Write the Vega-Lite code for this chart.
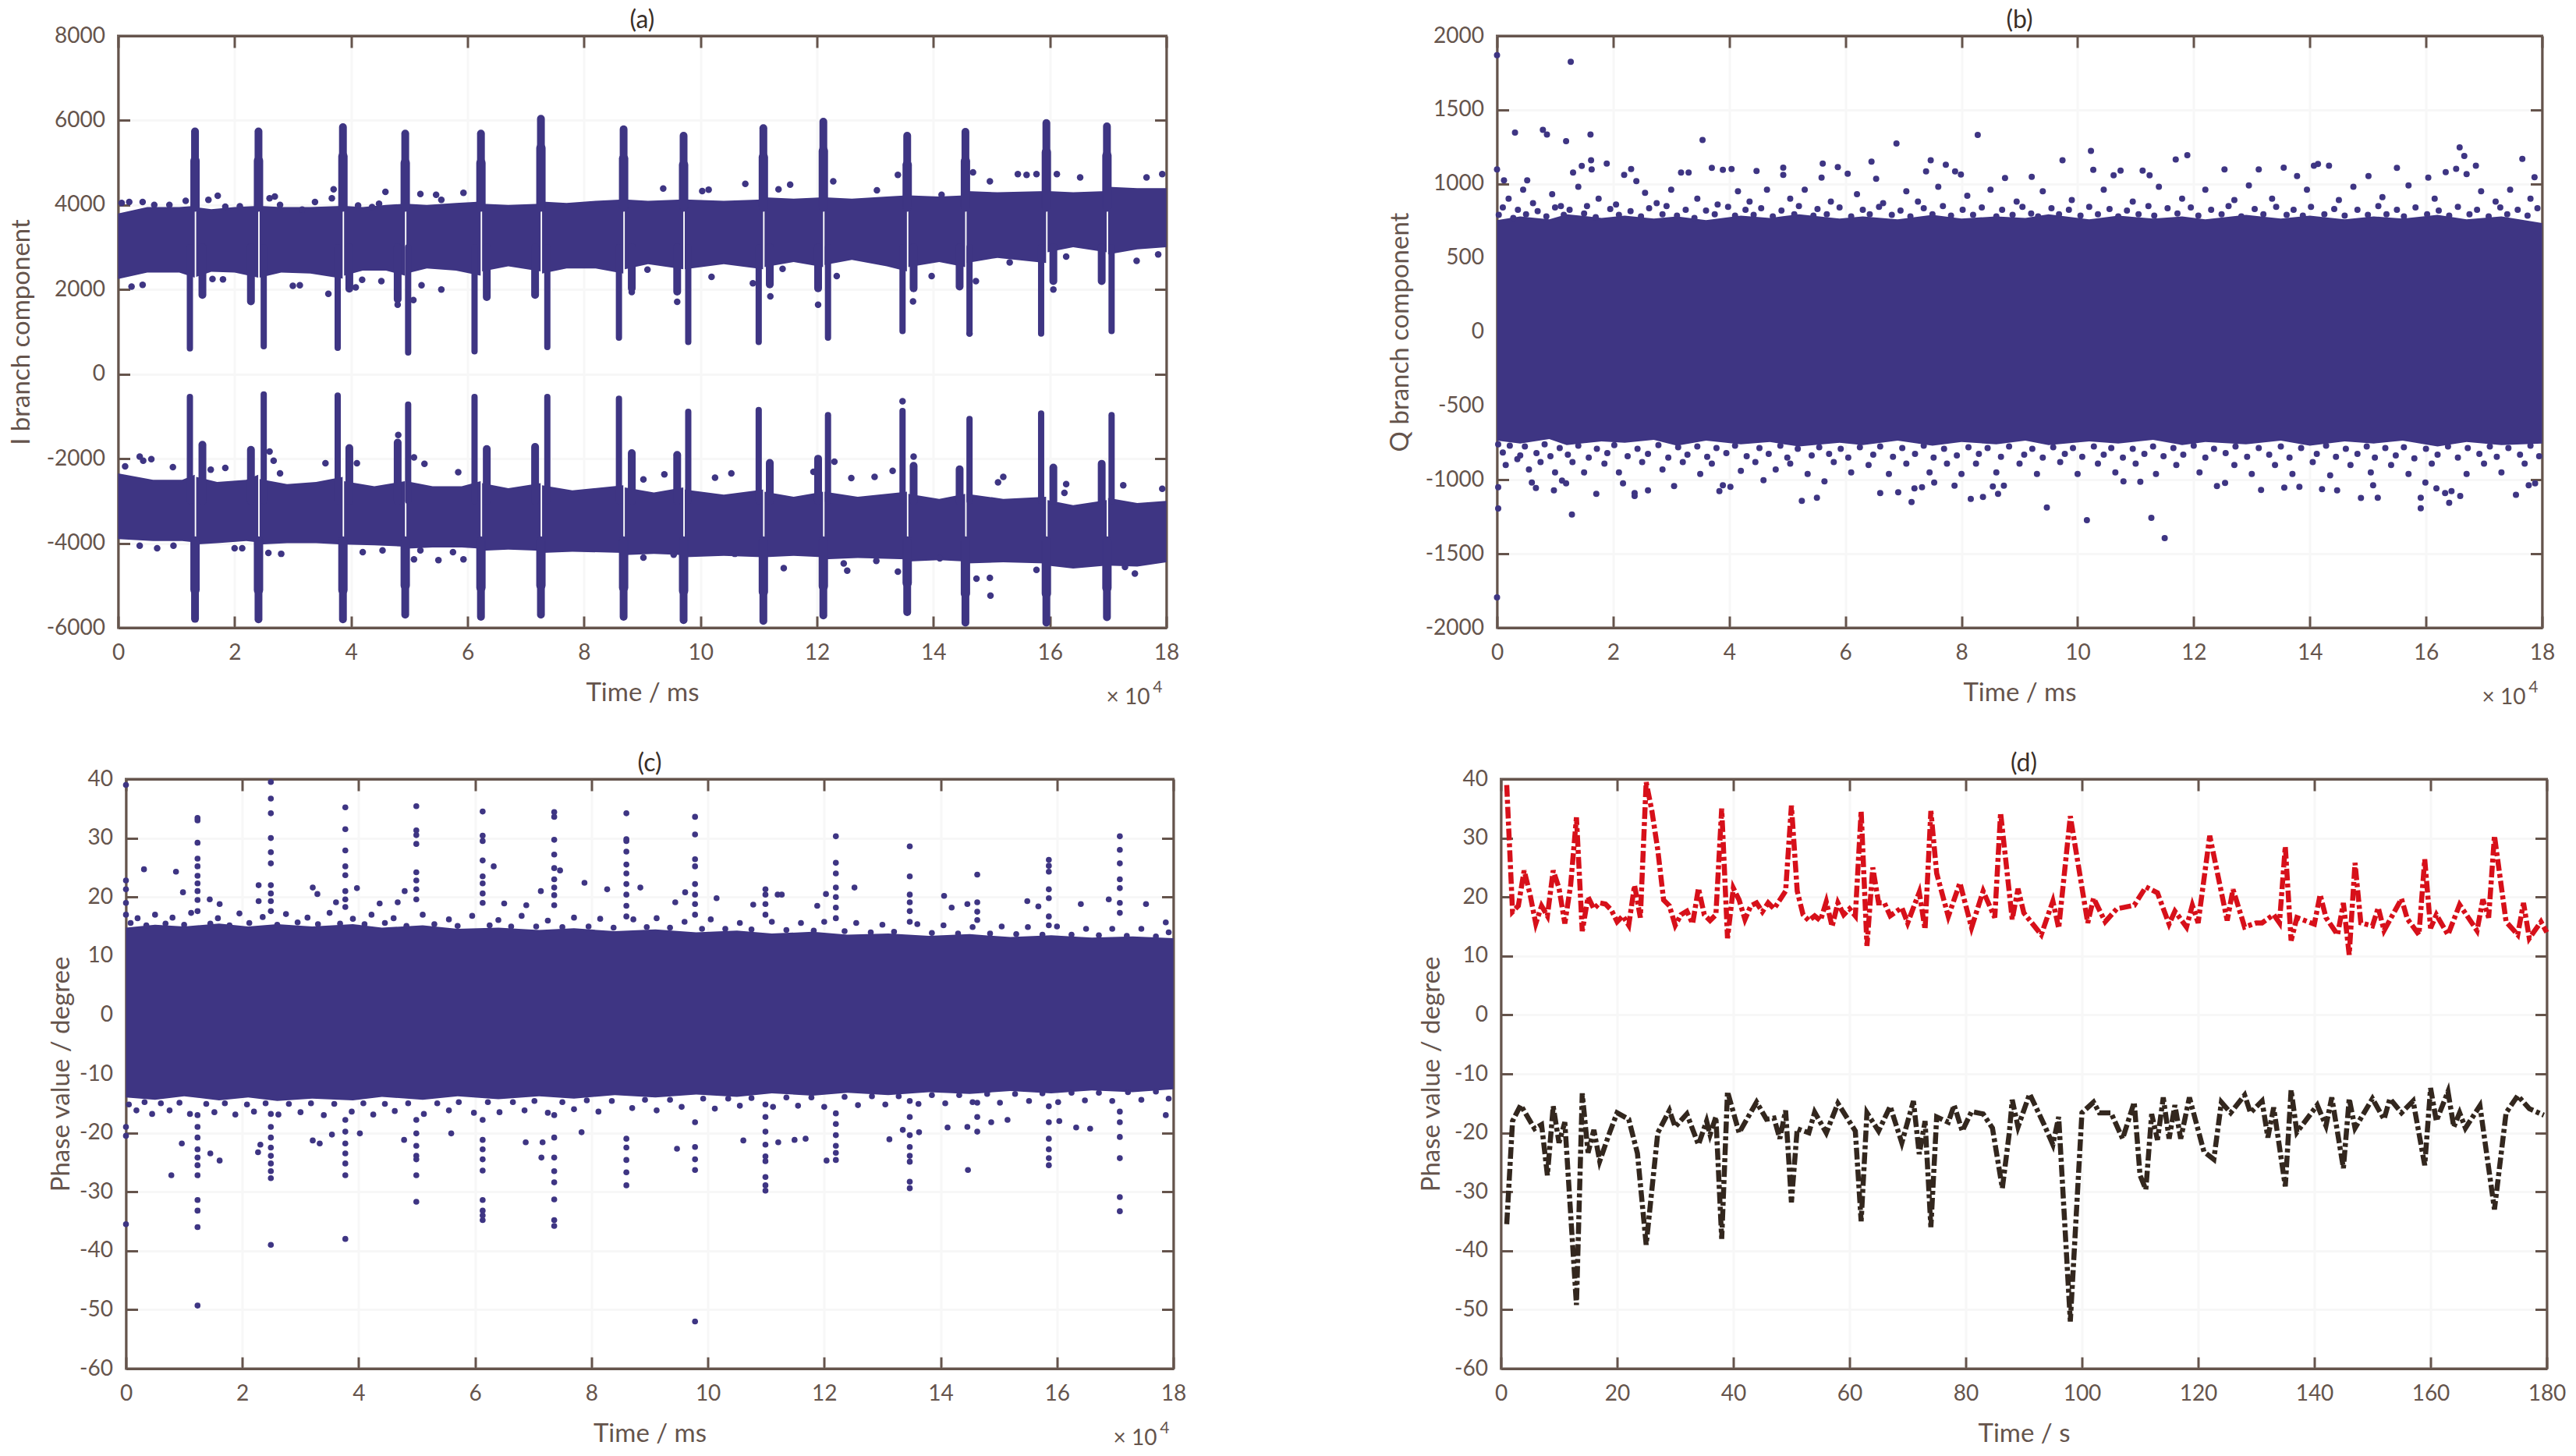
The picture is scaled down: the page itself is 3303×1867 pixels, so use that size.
{"$schema":"https://vega.github.io/schema/vega-lite/v6.json","padding":{"left":9.5,"top":8,"right":0,"bottom":0},"background":"white","config":{"view":{"stroke":"#65544c","strokeWidth":3},"style":{"cell":{"stroke":"#65544c","strokeWidth":3}},"axis":{"domain":true,"domainColor":"#65544c","domainWidth":3,"grid":false,"gridColor":"#f7f7f7","gridWidth":3,"tickColor":"#65544c","tickWidth":3,"tickSize":-15,"labelColor":"#65544c","labelFont":"Lato","labelFontSize":28,"labelOverlap":false,"labelBound":false,"labelFlush":false,"titleFont":"Lato","titleFontSize":33,"titleFontWeight":"normal","titleColor":"#65544c","labelExpr":"''+datum.value"},"title":{"font":"Lato","fontSize":32,"fontWeight":"normal","color":"#3a2f28","offset":-11}},
"datasets":{
"aBand":[{"s":"t0","x":0,"lo":2250,"hi":3800},{"s":"t0","x":0.5,"lo":2400,"hi":3950},{"s":"t0","x":1.05,"lo":2400,"hi":3950},{"s":"t0","x":1.315,"lo":2280,"hi":3980},{"s":"t1","x":1.34,"lo":2300,"hi":3950},{"s":"t1","x":1.6,"lo":2420,"hi":3900},{"s":"t1","x":2,"lo":2400,"hi":3950},{"s":"t1","x":2.405,"lo":2280,"hi":3980},{"s":"t2","x":2.43,"lo":2280,"hi":3980},{"s":"t2","x":2.8,"lo":2400,"hi":3950},{"s":"t2","x":3.3,"lo":2380,"hi":3950},{"s":"t2","x":3.855,"lo":2260,"hi":3980},{"s":"t3","x":3.88,"lo":2330,"hi":3980},{"s":"t3","x":4.2,"lo":2450,"hi":3950},{"s":"t3","x":4.6,"lo":2450,"hi":4000},{"s":"t3","x":4.925,"lo":2330,"hi":4030},{"s":"t4","x":4.95,"lo":2380,"hi":4030},{"s":"t4","x":5.3,"lo":2500,"hi":4000},{"s":"t4","x":5.8,"lo":2450,"hi":4050},{"s":"t4","x":6.225,"lo":2330,"hi":4080},{"s":"t5","x":6.25,"lo":2430,"hi":4030},{"s":"t5","x":6.7,"lo":2550,"hi":4000},{"s":"t5","x":7.255,"lo":2430,"hi":4030},{"s":"t6","x":7.28,"lo":2380,"hi":4080},{"s":"t6","x":7.7,"lo":2500,"hi":4050},{"s":"t6","x":8.2,"lo":2500,"hi":4100},{"s":"t6","x":8.675,"lo":2380,"hi":4130},{"s":"t7","x":8.7,"lo":2480,"hi":4130},{"s":"t7","x":9.1,"lo":2600,"hi":4100},{"s":"t7","x":9.705,"lo":2480,"hi":4130},{"s":"t8","x":9.73,"lo":2480,"hi":4130},{"s":"t8","x":10.4,"lo":2600,"hi":4100},{"s":"t8","x":11.075,"lo":2480,"hi":4130},{"s":"t9","x":11.1,"lo":2530,"hi":4180},{"s":"t9","x":11.6,"lo":2650,"hi":4150},{"s":"t9","x":12.105,"lo":2530,"hi":4180},{"s":"t10","x":12.13,"lo":2580,"hi":4180},{"s":"t10","x":12.6,"lo":2700,"hi":4150},{"s":"t10","x":13.2,"lo":2550,"hi":4200},{"s":"t10","x":13.545,"lo":2430,"hi":4230},{"s":"t11","x":13.57,"lo":2530,"hi":4230},{"s":"t11","x":14.1,"lo":2650,"hi":4200},{"s":"t11","x":14.545,"lo":2530,"hi":4230},{"s":"t12","x":14.57,"lo":2630,"hi":4330},{"s":"t12","x":15.1,"lo":2750,"hi":4300},{"s":"t12","x":15.935,"lo":2630,"hi":4330},{"s":"t13","x":15.96,"lo":2880,"hi":4330},{"s":"t13","x":16.4,"lo":3000,"hi":4300},{"s":"t13","x":16.975,"lo":2880,"hi":4330},{"s":"t14","x":17,"lo":2830,"hi":4430},{"s":"t14","x":17.5,"lo":2950,"hi":4400},{"s":"t14","x":18,"lo":3000,"hi":4400},
{"s":"b0","x":0,"lo":-3900,"hi":-2350},{"s":"b0","x":0.6,"lo":-3950,"hi":-2500},{"s":"b0","x":1.1,"lo":-3950,"hi":-2500},{"s":"b0","x":1.315,"lo":-3980,"hi":-2380},{"s":"b1","x":1.34,"lo":-4030,"hi":-2430},{"s":"b1","x":1.7,"lo":-4000,"hi":-2550},{"s":"b1","x":2.2,"lo":-3950,"hi":-2500},{"s":"b1","x":2.405,"lo":-3980,"hi":-2380},{"s":"b2","x":2.43,"lo":-4030,"hi":-2480},{"s":"b2","x":2.9,"lo":-4000,"hi":-2600},{"s":"b2","x":3.4,"lo":-4000,"hi":-2550},{"s":"b2","x":3.855,"lo":-4030,"hi":-2430},{"s":"b3","x":3.88,"lo":-4030,"hi":-2530},{"s":"b3","x":4.4,"lo":-4050,"hi":-2650},{"s":"b3","x":4.925,"lo":-4080,"hi":-2530},{"s":"b4","x":4.95,"lo":-4130,"hi":-2530},{"s":"b4","x":5.4,"lo":-4100,"hi":-2650},{"s":"b4","x":5.9,"lo":-4100,"hi":-2650},{"s":"b4","x":6.225,"lo":-4130,"hi":-2530},{"s":"b5","x":6.25,"lo":-4180,"hi":-2580},{"s":"b5","x":6.7,"lo":-4150,"hi":-2700},{"s":"b5","x":7.255,"lo":-4180,"hi":-2580},{"s":"b6","x":7.28,"lo":-4230,"hi":-2630},{"s":"b6","x":7.8,"lo":-4200,"hi":-2750},{"s":"b6","x":8.675,"lo":-4230,"hi":-2630},{"s":"b7","x":8.7,"lo":-4280,"hi":-2680},{"s":"b7","x":9.2,"lo":-4250,"hi":-2800},{"s":"b7","x":9.705,"lo":-4280,"hi":-2680},{"s":"b8","x":9.73,"lo":-4330,"hi":-2730},{"s":"b8","x":10.4,"lo":-4300,"hi":-2850},{"s":"b8","x":11.075,"lo":-4330,"hi":-2730},{"s":"b9","x":11.1,"lo":-4330,"hi":-2780},{"s":"b9","x":11.6,"lo":-4300,"hi":-2900},{"s":"b9","x":12.105,"lo":-4330,"hi":-2780},{"s":"b10","x":12.13,"lo":-4380,"hi":-2780},{"s":"b10","x":12.7,"lo":-4350,"hi":-2900},{"s":"b10","x":13.545,"lo":-4380,"hi":-2780},{"s":"b11","x":13.57,"lo":-4430,"hi":-2830},{"s":"b11","x":14.1,"lo":-4400,"hi":-2950},{"s":"b11","x":14.545,"lo":-4430,"hi":-2830},{"s":"b12","x":14.57,"lo":-4480,"hi":-2830},{"s":"b12","x":15.2,"lo":-4450,"hi":-2950},{"s":"b12","x":15.935,"lo":-4480,"hi":-2900},{"s":"b13","x":15.96,"lo":-4530,"hi":-2980},{"s":"b13","x":16.4,"lo":-4600,"hi":-3100},{"s":"b13","x":16.975,"lo":-4530,"hi":-2980},{"s":"b14","x":17,"lo":-4530,"hi":-2930},{"s":"b14","x":17.5,"lo":-4550,"hi":-3050},{"s":"b14","x":18,"lo":-4450,"hi":-3000}],
"aSpike":[{"a1":3950,"a2":3000,"a3":-3950,"a4":-3000,"c":1.32,"d":1.232,"l":1.447,"up":5740,"upw":5050,"dn":610,"lb":1870,"lup":-540,"llb":-1670,"lo":-5790,"low":-5100},{"a1":3950,"a2":3000,"a3":-3950,"a4":-3000,"c":2.41,"d":2.5,"l":2.28,"up":5740,"upw":5050,"dn":660,"lb":1720,"lup":-480,"llb":-1790,"lo":-5800,"low":-5110},{"a1":3950,"a2":3000,"a3":-3950,"a4":-3000,"c":3.86,"d":3.77,"l":3.97,"up":5840,"upw":5150,"dn":620,"lb":2020,"lup":-510,"llb":-1750,"lo":-5800,"low":-5110},{"a1":3950,"a2":3000,"a3":-3950,"a4":-3000,"c":4.93,"d":4.98,"l":4.8,"up":5690,"upw":5000,"dn":510,"lb":1770,"lup":-720,"llb":-1620,"lo":-5690,"low":-5000},{"a1":3950,"a2":3000,"a3":-3950,"a4":-3000,"c":6.23,"d":6.12,"l":6.33,"up":5690,"upw":5000,"dn":540,"lb":1820,"lup":-540,"llb":-1770,"lo":-5740,"low":-5050},{"a1":3950,"a2":3000,"a3":-3950,"a4":-3000,"c":7.26,"d":7.37,"l":7.16,"up":6040,"upw":5350,"dn":640,"lb":1870,"lup":-540,"llb":-1720,"lo":-5690,"low":-5000},{"a1":3950,"a2":3000,"a3":-3950,"a4":-3000,"c":8.68,"d":8.6,"l":8.82,"up":5790,"upw":5100,"dn":860,"lb":2030,"lup":-580,"llb":-1870,"lo":-5740,"low":-5050},{"a1":3950,"a2":3000,"a3":-3950,"a4":-3000,"c":9.71,"d":9.79,"l":9.6,"up":5640,"upw":4950,"dn":760,"lb":1950,"lup":-890,"llb":-1910,"lo":-5820,"low":-5130},{"a1":3950,"a2":3000,"a3":-3950,"a4":-3000,"c":11.08,"d":11,"l":11.19,"up":5820,"upw":5130,"dn":760,"lb":2120,"lup":-850,"llb":-2100,"lo":-5840,"low":-5150},{"a1":3950,"a2":3000,"a3":-3950,"a4":-3000,"c":12.11,"d":12.19,"l":12.02,"up":5970,"upw":5280,"dn":860,"lb":2030,"lup":-970,"llb":-2000,"lo":-5710,"low":-5020},{"a1":3950,"a2":3000,"a3":-3950,"a4":-3000,"c":13.55,"d":13.47,"l":13.66,"up":5640,"upw":4950,"dn":1020,"lb":2030,"lup":-870,"llb":-2170,"lo":-5630,"low":-4940},{"a1":3950,"a2":3000,"a3":-3950,"a4":-3000,"c":14.55,"d":14.62,"l":14.45,"up":5730,"upw":5040,"dn":1010,"lb":2070,"lup":-1060,"llb":-2250,"lo":-5880,"low":-5190},{"a1":3950,"a2":3000,"a3":-3950,"a4":-3000,"c":15.94,"d":15.85,"l":16.06,"up":5940,"upw":5250,"dn":960,"lb":2200,"lup":-930,"llb":-2210,"lo":-5880,"low":-5190},{"a1":3950,"a2":3000,"a3":-3950,"a4":-3000,"c":16.98,"d":17.06,"l":16.89,"up":5860,"upw":5170,"dn":1020,"lb":2200,"lup":-970,"llb":-2120,"lo":-5750,"low":-5060}],
"aDots":[{"x":0.06,"y":4050},{"x":0.19,"y":4070},{"x":0.42,"y":4070},{"x":0.62,"y":4000},{"x":0.88,"y":4000},{"x":1.16,"y":4100},{"x":1.55,"y":4120},{"x":1.71,"y":4220},{"x":1.84,"y":3960},{"x":2.09,"y":3970},{"x":2.6,"y":4160},{"x":2.69,"y":4200},{"x":2.78,"y":4000},{"x":3.16,"y":3890},{"x":3.38,"y":4070},{"x":3.67,"y":4160},{"x":3.7,"y":4370},{"x":4.12,"y":3990},{"x":4.36,"y":3950},{"x":4.48,"y":4030},{"x":4.59,"y":4310},{"x":5.19,"y":4260},{"x":5.46,"y":4240},{"x":5.55,"y":4120},{"x":5.93,"y":4290},{"x":0.23,"y":2070},{"x":0.42,"y":2110},{"x":1.62,"y":2250},{"x":1.8,"y":2240},{"x":3,"y":2090},{"x":3.12,"y":2100},{"x":3.61,"y":1900},{"x":4.08,"y":2050},{"x":4.19,"y":2230},{"x":4.52,"y":2200},{"x":4.8,"y":1640},{"x":5.07,"y":1750},{"x":5.55,"y":2000},{"x":5.21,"y":2100},{"x":0.37,"y":-1950},{"x":0.43,"y":-2050},{"x":0.57,"y":-2010},{"x":0.12,"y":-2180},{"x":0.94,"y":-2200},{"x":1.59,"y":-2260},{"x":1.84,"y":-2220},{"x":2.6,"y":-1830},{"x":2.67,"y":-2050},{"x":2.78,"y":-2350},{"x":3.56,"y":-2110},{"x":4.1,"y":-2110},{"x":4.81,"y":-1440},{"x":5.08,"y":-1970},{"x":5.26,"y":-2120},{"x":5.84,"y":-2320},{"x":0.37,"y":-4060},{"x":0.67,"y":-4120},{"x":0.95,"y":-4060},{"x":2,"y":-4120},{"x":2.13,"y":-4120},{"x":2.58,"y":-4230},{"x":2.8,"y":-4250},{"x":4.2,"y":-4210},{"x":4.54,"y":-4170},{"x":5.08,"y":-4380},{"x":5.19,"y":-4170},{"x":5.5,"y":-4400},{"x":5.75,"y":-4210},{"x":5.93,"y":-4380},{"x":9.36,"y":4390},{"x":10.03,"y":4330},{"x":10.14,"y":4360},{"x":10.77,"y":4500},{"x":11.34,"y":4370},{"x":11.54,"y":4480},{"x":12.28,"y":4560},{"x":13.03,"y":4350},{"x":13.39,"y":4710},{"x":14.14,"y":4240},{"x":14.68,"y":4770},{"x":14.97,"y":4560},{"x":15.45,"y":4730},{"x":15.6,"y":4710},{"x":15.77,"y":4730},{"x":16.12,"y":4730},{"x":16.52,"y":4650},{"x":17.66,"y":4650},{"x":17.93,"y":4730},{"x":8.82,"y":1940},{"x":9.09,"y":2470},{"x":9.6,"y":1710},{"x":10.19,"y":2300},{"x":10.9,"y":2150},{"x":11.2,"y":1840},{"x":11.41,"y":2490},{"x":12.02,"y":1640},{"x":12.34,"y":2320},{"x":13.65,"y":1720},{"x":13.97,"y":2320},{"x":14.62,"y":960},{"x":14.73,"y":2200},{"x":15.31,"y":2640},{"x":16.06,"y":2000},{"x":16.28,"y":2780},{"x":17.49,"y":2680},{"x":17.86,"y":2830},{"x":9.02,"y":-2490},{"x":9.38,"y":-2370},{"x":10.25,"y":-2450},{"x":10.53,"y":-2350},{"x":11.94,"y":-2310},{"x":12.3,"y":-2070},{"x":12.59,"y":-2460},{"x":12.99,"y":-2430},{"x":13.3,"y":-2290},{"x":13.66,"y":-1950},{"x":15.11,"y":-2560},{"x":15.2,"y":-2430},{"x":16.28,"y":-2600},{"x":16.25,"y":-2810},{"x":17.26,"y":-2630},{"x":17.93,"y":-2710},{"x":9.02,"y":-4340},{"x":9.54,"y":-4270},{"x":10.59,"y":-4250},{"x":11.43,"y":-4590},{"x":12.46,"y":-4480},{"x":12.52,"y":-4650},{"x":13.02,"y":-4420},{"x":13.39,"y":-4670},{"x":14.11,"y":-4360},{"x":14.74,"y":-4840},{"x":14.97,"y":-4820},{"x":14.98,"y":-5240},{"x":15.77,"y":-4630},{"x":16.33,"y":-4500},{"x":17.29,"y":-4560},{"x":17.46,"y":-4720},{"x":13.47,"y":-640}],
"bBand":[{"x":0,"lo":-735,"hi":755},{"x":0.4,"lo":-755,"hi":780},{"x":0.9,"lo":-725,"hi":760},{"x":1.2,"lo":-765,"hi":795},{"x":1.8,"lo":-740,"hi":770},{"x":2.2,"lo":-750,"hi":785},{"x":2.7,"lo":-730,"hi":765},{"x":3.1,"lo":-770,"hi":780},{"x":3.6,"lo":-735,"hi":755},{"x":4.2,"lo":-760,"hi":785},{"x":4.7,"lo":-745,"hi":770},{"x":5.2,"lo":-775,"hi":795},{"x":5.9,"lo":-750,"hi":765},{"x":6.3,"lo":-765,"hi":780},{"x":6.9,"lo":-735,"hi":760},{"x":7.5,"lo":-770,"hi":790},{"x":8,"lo":-745,"hi":765},{"x":8.6,"lo":-760,"hi":780},{"x":9.1,"lo":-735,"hi":770},{"x":9.5,"lo":-765,"hi":795},{"x":10.2,"lo":-740,"hi":760},{"x":10.7,"lo":-755,"hi":785},{"x":11.3,"lo":-730,"hi":765},{"x":11.8,"lo":-765,"hi":780},{"x":12.2,"lo":-745,"hi":760},{"x":12.9,"lo":-760,"hi":790},{"x":13.5,"lo":-735,"hi":765},{"x":14,"lo":-770,"hi":785},{"x":14.6,"lo":-740,"hi":760},{"x":15.1,"lo":-755,"hi":780},{"x":15.6,"lo":-735,"hi":765},{"x":16.2,"lo":-775,"hi":790},{"x":16.7,"lo":-745,"hi":760},{"x":17.3,"lo":-765,"hi":780},{"x":18,"lo":-755,"hi":735}],
"bDots":[{"x":0,"y":1870},{"x":1.27,"y":1825},{"x":0.31,"y":1347},{"x":0.79,"y":1365},{"x":0.86,"y":1333},{"x":1.19,"y":1289},{"x":1.61,"y":1333},{"x":3.54,"y":1297},{"x":6.88,"y":1273},{"x":8.28,"y":1331},{"x":0,"y":1097},{"x":0.12,"y":1024},{"x":0.52,"y":1024},{"x":1.31,"y":1076},{"x":1.46,"y":1121},{"x":1.62,"y":1160},{"x":1.63,"y":1097},{"x":1.89,"y":1137},{"x":2.19,"y":1060},{"x":2.31,"y":1100},{"x":2.4,"y":1018},{"x":3.17,"y":1076},{"x":3.3,"y":1076},{"x":3.7,"y":1108},{"x":3.89,"y":1095},{"x":4.04,"y":1100},{"x":4.47,"y":1087},{"x":4.93,"y":1110},{"x":4.93,"y":1060},{"x":5.61,"y":1137},{"x":5.87,"y":1113},{"x":5.59,"y":1042},{"x":6.04,"y":1068},{"x":6.45,"y":1150},{"x":6.53,"y":1034},{"x":7.39,"y":1084},{"x":7.47,"y":1160},{"x":7.73,"y":1129},{"x":7.89,"y":1084},{"x":7.99,"y":1063},{"x":8.75,"y":1040},{"x":9.74,"y":1160},{"x":10.23,"y":1223},{"x":10.27,"y":1095},{"x":9.21,"y":1047},{"x":10.62,"y":1058},{"x":10.74,"y":1089},{"x":11.12,"y":1089},{"x":11.24,"y":1058},{"x":11.69,"y":1165},{"x":11.89,"y":1194},{"x":12.53,"y":1097},{"x":13.12,"y":1097},{"x":13.55,"y":1110},{"x":13.78,"y":1053},{"x":14.07,"y":1123},{"x":14.14,"y":1134},{"x":14.33,"y":1123},{"x":15.01,"y":1053},{"x":15.5,"y":1108},{"x":16.04,"y":1042},{"x":16.34,"y":1079},{"x":16.52,"y":1102},{"x":16.58,"y":1247},{"x":16.66,"y":1189},{"x":16.7,"y":1066},{"x":16.86,"y":1123},{"x":17.66,"y":1168},{"x":17.87,"y":1045},{"x":0.2,"y":900},{"x":0.45,"y":960},{"x":0.62,"y":870},{"x":0.95,"y":930},{"x":1.1,"y":850},{"x":1.4,"y":980},{"x":1.75,"y":900},{"x":2.05,"y":860},{"x":2.55,"y":940},{"x":2.75,"y":870},{"x":3,"y":960},{"x":3.45,"y":900},{"x":3.8,"y":860},{"x":4.15,"y":950},{"x":4.35,"y":880},{"x":4.65,"y":960},{"x":5.05,"y":900},{"x":5.3,"y":960},{"x":5.75,"y":880},{"x":6.2,"y":930},{"x":6.65,"y":870},{"x":7.05,"y":950},{"x":7.25,"y":880},{"x":7.6,"y":980},{"x":8.1,"y":920},{"x":8.5,"y":960},{"x":8.95,"y":880},{"x":9.4,"y":950},{"x":9.9,"y":890},{"x":10.45,"y":960},{"x":10.95,"y":880},{"x":11.4,"y":980},{"x":11.8,"y":900},{"x":12.2,"y":960},{"x":12.7,"y":890},{"x":12.95,"y":990},{"x":13.35,"y":900},{"x":13.95,"y":960},{"x":14.5,"y":890},{"x":14.75,"y":980},{"x":15.25,"y":910},{"x":15.7,"y":990},{"x":16.15,"y":900},{"x":16.95,"y":950},{"x":17.2,"y":880},{"x":17.45,"y":960},{"x":17.8,"y":900},{"x":0,"y":-1795},{"x":0.02,"y":-1194},{"x":1.29,"y":-1234},{"x":0.02,"y":-1050},{"x":0.6,"y":-1018},{"x":0.67,"y":-1055},{"x":0.98,"y":-1071},{"x":1.12,"y":-1005},{"x":1.19,"y":-1024},{"x":1.71,"y":-1095},{"x":2.17,"y":-1024},{"x":2.37,"y":-1089},{"x":2.37,"y":-1110},{"x":2.6,"y":-1071},{"x":3.05,"y":-1042},{"x":3.83,"y":-1076},{"x":3.89,"y":-1037},{"x":4.02,"y":-1047},{"x":4.59,"y":-1003},{"x":5.25,"y":-1142},{"x":5.51,"y":-1121},{"x":5.64,"y":-1010},{"x":6.6,"y":-1089},{"x":6.91,"y":-1084},{"x":7.14,"y":-1150},{"x":7.19,"y":-1058},{"x":7.32,"y":-1050},{"x":7.53,"y":-1018},{"x":7.88,"y":-1040},{"x":8.16,"y":-1129},{"x":8.37,"y":-1116},{"x":8.54,"y":-1045},{"x":8.63,"y":-1095},{"x":8.73,"y":-1040},{"x":9.47,"y":-1187},{"x":10.16,"y":-1273},{"x":11.27,"y":-1257},{"x":11.5,"y":-1394},{"x":10.79,"y":-1010},{"x":11.08,"y":-1013},{"x":12.4,"y":-1042},{"x":12.54,"y":-1021},{"x":13.16,"y":-1068},{"x":13.56,"y":-1053},{"x":13.82,"y":-1047},{"x":14.21,"y":-1063},{"x":14.47,"y":-1071},{"x":14.88,"y":-1123},{"x":15.09,"y":-1037},{"x":15.17,"y":-1121},{"x":15.91,"y":-1121},{"x":15.91,"y":-1192},{"x":15.99,"y":-1018},{"x":16.18,"y":-1058},{"x":16.33,"y":-1089},{"x":16.4,"y":-1155},{"x":16.44,"y":-1076},{"x":16.59,"y":-1110},{"x":17.55,"y":-1102},{"x":17.77,"y":-1037},{"x":17.88,"y":-1024},{"x":0.15,"y":-900},{"x":0.35,"y":-860},{"x":0.55,"y":-930},{"x":0.75,"y":-880},{"x":1,"y":-950},{"x":1.3,"y":-880},{"x":1.5,"y":-950},{"x":1.85,"y":-890},{"x":2.1,"y":-950},{"x":2.5,"y":-880},{"x":2.85,"y":-930},{"x":3.2,"y":-880},{"x":3.5,"y":-960},{"x":3.7,"y":-890},{"x":4.2,"y":-940},{"x":4.45,"y":-880},{"x":4.8,"y":-930},{"x":5.05,"y":-890},{"x":5.35,"y":-960},{"x":5.8,"y":-880},{"x":6.1,"y":-950},{"x":6.4,"y":-900},{"x":6.75,"y":-960},{"x":7.05,"y":-890},{"x":7.45,"y":-950},{"x":7.75,"y":-890},{"x":8,"y":-960},{"x":8.25,"y":-890},{"x":8.6,"y":-950},{"x":9,"y":-890},{"x":9.3,"y":-960},{"x":9.7,"y":-880},{"x":10,"y":-960},{"x":10.35,"y":-890},{"x":10.65,"y":-950},{"x":11,"y":-890},{"x":11.35,"y":-960},{"x":11.7,"y":-900},{"x":12.1,"y":-950},{"x":12.7,"y":-900},{"x":13,"y":-960},{"x":13.4,"y":-900},{"x":13.7,"y":-960},{"x":14.05,"y":-880},{"x":14.35,"y":-970},{"x":14.7,"y":-900},{"x":15.05,"y":-950},{"x":15.4,"y":-900},{"x":15.7,"y":-960},{"x":16.1,"y":-890},{"x":16.7,"y":-960},{"x":17,"y":-890},{"x":17.3,"y":-950},{"x":17.7,"y":-890},
{"x":0.03,"y":790},{"x":0.1,"y":840},{"x":0.28,"y":770},{"x":0.36,"y":825},{"x":0.5,"y":795},{"x":0.7,"y":815},{"x":0.85,"y":780},{"x":1,"y":840},{"x":1.15,"y":790},{"x":1.25,"y":825},{"x":1.5,"y":800},{"x":1.55,"y":850},{"x":1.7,"y":775},{"x":1.95,"y":830},{"x":2.1,"y":790},{"x":2.3,"y":815},{"x":2.48,"y":780},{"x":2.62,"y":835},{"x":2.85,"y":795},{"x":2.92,"y":850},{"x":3.1,"y":785},{"x":3.25,"y":825},{"x":3.4,"y":770},{"x":3.6,"y":820},{"x":3.75,"y":795},{"x":3.98,"y":845},{"x":4.1,"y":785},{"x":4.28,"y":825},{"x":4.42,"y":790},{"x":4.55,"y":835},{"x":4.75,"y":780},{"x":4.9,"y":820},{"x":5.12,"y":795},{"x":5.2,"y":850},{"x":5.45,"y":785},{"x":5.52,"y":830},{"x":5.68,"y":795},{"x":5.9,"y":840},{"x":6.1,"y":780},{"x":6.3,"y":825},{"x":6.42,"y":795},{"x":6.58,"y":845},{"x":6.8,"y":790},{"x":6.95,"y":820},{"x":7.12,"y":780},{"x":7.35,"y":835},{"x":7.5,"y":795},{"x":7.68,"y":850},{"x":7.82,"y":785},{"x":8.02,"y":825},{"x":8.2,"y":790},{"x":8.35,"y":840},{"x":8.6,"y":780},{"x":8.7,"y":825},{"x":8.88,"y":790},{"x":9.05,"y":845},{"x":9.2,"y":800},{"x":9.32,"y":780},{"x":9.55,"y":835},{"x":9.68,"y":795},{"x":9.85,"y":825},{"x":10.05,"y":785},{"x":10.2,"y":845},{"x":10.35,"y":795},{"x":10.55,"y":830},{"x":10.7,"y":780},{"x":10.85,"y":820},{"x":11.05,"y":795},{"x":11.22,"y":850},{"x":11.32,"y":785},{"x":11.55,"y":835},{"x":11.72,"y":800},{"x":11.95,"y":840},{"x":12.08,"y":785},{"x":12.3,"y":825},{"x":12.48,"y":795},{"x":12.6,"y":850},{"x":12.82,"y":780},{"x":13.05,"y":830},{"x":13.2,"y":795},{"x":13.42,"y":845},{"x":13.6,"y":790},{"x":13.72,"y":825},{"x":13.88,"y":785},{"x":14.02,"y":845},{"x":14.25,"y":795},{"x":14.42,"y":830},{"x":14.6,"y":785},{"x":14.82,"y":825},{"x":15,"y":790},{"x":15.18,"y":850},{"x":15.32,"y":795},{"x":15.5,"y":825},{"x":15.62,"y":780},{"x":15.82,"y":840},{"x":16.02,"y":795},{"x":16.22,"y":820},{"x":16.4,"y":785},{"x":16.55,"y":845},{"x":16.75,"y":795},{"x":16.88,"y":825},{"x":17.08,"y":780},{"x":17.28,"y":840},{"x":17.4,"y":795},{"x":17.58,"y":825},{"x":17.75,"y":785},{"x":17.92,"y":835},
{"x":0.02,"y":-760},{"x":0.1,"y":-815},{"x":0.22,"y":-770},{"x":0.4,"y":-835},{"x":0.48,"y":-775},{"x":0.68,"y":-820},{"x":0.82,"y":-760},{"x":0.92,"y":-840},{"x":1.08,"y":-785},{"x":1.22,"y":-830},{"x":1.4,"y":-770},{"x":1.58,"y":-850},{"x":1.72,"y":-790},{"x":1.9,"y":-820},{"x":2.02,"y":-765},{"x":2.25,"y":-840},{"x":2.42,"y":-790},{"x":2.6,"y":-825},{"x":2.78,"y":-765},{"x":2.95,"y":-850},{"x":3.12,"y":-780},{"x":3.28,"y":-830},{"x":3.45,"y":-775},{"x":3.62,"y":-845},{"x":3.78,"y":-785},{"x":3.95,"y":-820},{"x":4.1,"y":-770},{"x":4.3,"y":-840},{"x":4.52,"y":-785},{"x":4.68,"y":-825},{"x":4.88,"y":-770},{"x":5,"y":-850},{"x":5.18,"y":-790},{"x":5.42,"y":-835},{"x":5.55,"y":-780},{"x":5.72,"y":-825},{"x":5.92,"y":-790},{"x":6.05,"y":-850},{"x":6.25,"y":-780},{"x":6.48,"y":-830},{"x":6.6,"y":-775},{"x":6.82,"y":-845},{"x":6.98,"y":-785},{"x":7.2,"y":-825},{"x":7.35,"y":-770},{"x":7.52,"y":-850},{"x":7.7,"y":-790},{"x":7.92,"y":-835},{"x":8.12,"y":-780},{"x":8.3,"y":-825},{"x":8.45,"y":-785},{"x":8.68,"y":-845},{"x":8.82,"y":-775},{"x":9.08,"y":-830},{"x":9.22,"y":-790},{"x":9.4,"y":-850},{"x":9.58,"y":-780},{"x":9.78,"y":-825},{"x":9.92,"y":-785},{"x":10.08,"y":-845},{"x":10.28,"y":-775},{"x":10.45,"y":-830},{"x":10.58,"y":-785},{"x":10.78,"y":-850},{"x":10.95,"y":-790},{"x":11.15,"y":-825},{"x":11.3,"y":-775},{"x":11.48,"y":-840},{"x":11.65,"y":-785},{"x":11.82,"y":-830},{"x":12,"y":-770},{"x":12.2,"y":-850},{"x":12.35,"y":-790},{"x":12.55,"y":-820},{"x":12.72,"y":-775},{"x":12.92,"y":-845},{"x":13.12,"y":-785},{"x":13.3,"y":-830},{"x":13.5,"y":-775},{"x":13.65,"y":-850},{"x":13.85,"y":-785},{"x":14.12,"y":-825},{"x":14.28,"y":-770},{"x":14.45,"y":-845},{"x":14.62,"y":-790},{"x":14.82,"y":-825},{"x":14.98,"y":-775},{"x":15.12,"y":-850},{"x":15.3,"y":-785},{"x":15.48,"y":-835},{"x":15.62,"y":-780},{"x":15.8,"y":-855},{"x":16,"y":-790},{"x":16.2,"y":-830},{"x":16.38,"y":-775},{"x":16.55,"y":-850},{"x":16.72,"y":-785},{"x":16.92,"y":-825},{"x":17.1,"y":-775},{"x":17.22,"y":-845},{"x":17.42,"y":-785},{"x":17.62,"y":-830},{"x":17.8,"y":-770},{"x":17.95,"y":-840}],
"cBand":[{"x":0,"lo":-14,"hi":14.8},{"x":0.5,"lo":-14.4,"hi":15.3},{"x":1,"lo":-13.8,"hi":15},{"x":1.6,"lo":-14.5,"hi":15.5},{"x":2.1,"lo":-14,"hi":15},{"x":2.6,"lo":-14.6,"hi":15.4},{"x":3.2,"lo":-14.2,"hi":15},{"x":3.9,"lo":-14.5,"hi":15.4},{"x":4.4,"lo":-13.9,"hi":14.8},{"x":5.1,"lo":-14.4,"hi":15.2},{"x":5.7,"lo":-13.8,"hi":14.6},{"x":6.4,"lo":-14.3,"hi":14.8},{"x":7.1,"lo":-13.8,"hi":14.4},{"x":7.7,"lo":-14.2,"hi":14.7},{"x":8.4,"lo":-13.6,"hi":14.2},{"x":9.1,"lo":-14,"hi":14.5},{"x":9.8,"lo":-13.5,"hi":14},{"x":10.5,"lo":-13.9,"hi":14.3},{"x":11.1,"lo":-13.3,"hi":13.8},{"x":11.8,"lo":-13.7,"hi":14.1},{"x":12.4,"lo":-13.2,"hi":13.6},{"x":13.1,"lo":-13.6,"hi":13.8},{"x":13.8,"lo":-13.1,"hi":13.4},{"x":14.5,"lo":-13.4,"hi":13.7},{"x":15.2,"lo":-12.9,"hi":13.2},{"x":15.9,"lo":-13.3,"hi":13.5},{"x":16.6,"lo":-12.8,"hi":13.1},{"x":17.3,"lo":-13.1,"hi":13.3},{"x":18,"lo":-12.6,"hi":13}],
"cDots":[{"x":0,"y":39},{"x":0,"y":22.8},{"x":0,"y":21.3},{"x":0,"y":19},{"x":0,"y":17},{"x":0,"y":-19},{"x":0,"y":-20.5},{"x":0,"y":-35.5},{"x":1.23,"y":33.4},{"x":1.23,"y":33},{"x":1.23,"y":29.2},{"x":1.23,"y":26.5},{"x":1.23,"y":25.2},{"x":1.23,"y":23.6},{"x":1.23,"y":22.3},{"x":1.23,"y":21},{"x":1.23,"y":19.5},{"x":1.23,"y":17.6},{"x":1.23,"y":-17},{"x":1.23,"y":-19},{"x":1.23,"y":-20.8},{"x":1.23,"y":-22.8},{"x":1.23,"y":-24.2},{"x":1.23,"y":-25.5},{"x":1.23,"y":-27.2},{"x":1.23,"y":-31.4},{"x":1.23,"y":-33.2},{"x":1.23,"y":-36},{"x":1.23,"y":-49.3},{"x":2.49,"y":39.5},{"x":2.49,"y":36.7},{"x":2.49,"y":34.2},{"x":2.49,"y":30},{"x":2.49,"y":27.6},{"x":2.49,"y":25.7},{"x":2.49,"y":22},{"x":2.49,"y":20.6},{"x":2.49,"y":19.3},{"x":2.49,"y":17.6},{"x":2.49,"y":-16.8},{"x":2.49,"y":-19},{"x":2.49,"y":-20.8},{"x":2.49,"y":-22.5},{"x":2.49,"y":-23.9},{"x":2.49,"y":-25.2},{"x":2.49,"y":-26.5},{"x":2.49,"y":-27.7},{"x":2.49,"y":-39},{"x":3.77,"y":35.2},{"x":3.77,"y":31.5},{"x":3.77,"y":27.9},{"x":3.77,"y":25.2},{"x":3.77,"y":23.7},{"x":3.77,"y":21},{"x":3.77,"y":19.6},{"x":3.77,"y":18.3},{"x":3.77,"y":-17.8},{"x":3.77,"y":-19.8},{"x":3.77,"y":-21.8},{"x":3.77,"y":-23.5},{"x":3.77,"y":-25.2},{"x":3.77,"y":-27.2},{"x":3.77,"y":-38},{"x":4.99,"y":35.4},{"x":4.99,"y":31.3},{"x":4.99,"y":30.5},{"x":4.99,"y":29},{"x":4.99,"y":24.2},{"x":4.99,"y":22.8},{"x":4.99,"y":21.3},{"x":4.99,"y":19.6},{"x":4.99,"y":-17.8},{"x":4.99,"y":-20.1},{"x":4.99,"y":-22.2},{"x":4.99,"y":-23.9},{"x":4.99,"y":-24.5},{"x":4.99,"y":-27.2},{"x":4.99,"y":-31.7},{"x":6.13,"y":34.5},{"x":6.13,"y":30.4},{"x":6.13,"y":29.5},{"x":6.13,"y":26.2},{"x":6.13,"y":23.5},{"x":6.13,"y":22.3},{"x":6.13,"y":20.6},{"x":6.13,"y":19},{"x":6.13,"y":-17.8},{"x":6.13,"y":-21.2},{"x":6.13,"y":-22.8},{"x":6.13,"y":-24.5},{"x":6.13,"y":-26.4},{"x":6.13,"y":-31.4},{"x":6.13,"y":-33.2},{"x":6.13,"y":-34},{"x":6.13,"y":-34.8},{"x":7.36,"y":34.4},{"x":7.36,"y":33.6},{"x":7.36,"y":29.7},{"x":7.36,"y":27.2},{"x":7.36,"y":24.9},{"x":7.36,"y":23},{"x":7.36,"y":21.6},{"x":7.36,"y":20.3},{"x":7.36,"y":18.6},{"x":7.36,"y":-17},{"x":7.36,"y":-20.8},{"x":7.36,"y":-24.2},{"x":7.36,"y":-26.5},{"x":7.36,"y":-28.4},{"x":7.36,"y":-31.3},{"x":7.36,"y":-34.8},{"x":7.36,"y":-35.8},{"x":8.6,"y":34.2},{"x":8.6,"y":29.8},{"x":8.6,"y":29.5},{"x":8.6,"y":27.7},{"x":8.6,"y":25.5},{"x":8.6,"y":24},{"x":8.6,"y":22.2},{"x":8.6,"y":20.4},{"x":8.6,"y":18.5},{"x":8.6,"y":16.7},{"x":8.6,"y":-21},{"x":8.6,"y":-22.5},{"x":8.6,"y":-24.6},{"x":8.6,"y":-26.7},{"x":8.6,"y":-28.9},{"x":9.78,"y":33.6},{"x":9.78,"y":30.6},{"x":9.78,"y":26.4},{"x":9.78,"y":25.2},{"x":9.78,"y":22.2},{"x":9.78,"y":20.4},{"x":9.78,"y":18.8},{"x":9.78,"y":17},{"x":9.78,"y":-18.2},{"x":9.78,"y":-22.4},{"x":9.78,"y":-24.5},{"x":9.78,"y":-26.3},{"x":9.78,"y":-52},{"x":10.99,"y":21.3},{"x":10.99,"y":20.4},{"x":10.99,"y":18.8},{"x":10.99,"y":17},{"x":10.99,"y":-15.2},{"x":10.99,"y":-17.3},{"x":10.99,"y":-19.8},{"x":10.99,"y":-22},{"x":10.99,"y":-24},{"x":10.99,"y":-24.8},{"x":10.99,"y":-27.5},{"x":10.99,"y":-28.9},{"x":10.99,"y":-29.8},{"x":12.2,"y":30.3},{"x":12.2,"y":25.8},{"x":12.2,"y":24},{"x":12.2,"y":21.6},{"x":12.2,"y":20},{"x":12.2,"y":18.2},{"x":12.2,"y":16.4},{"x":12.2,"y":-16.7},{"x":12.2,"y":-18.5},{"x":12.2,"y":-20.4},{"x":12.2,"y":-22.2},{"x":12.2,"y":-23.4},{"x":12.2,"y":-24.6},{"x":13.47,"y":28.6},{"x":13.47,"y":23.5},{"x":13.47,"y":20.4},{"x":13.47,"y":19.1},{"x":13.47,"y":17.6},{"x":13.47,"y":15.8},{"x":13.47,"y":-14.6},{"x":13.47,"y":-17.3},{"x":13.47,"y":-20.4},{"x":13.47,"y":-22.4},{"x":13.47,"y":-23.9},{"x":13.47,"y":-24.9},{"x":13.47,"y":-28.3},{"x":13.47,"y":-29.4},{"x":14.63,"y":23.8},{"x":14.63,"y":19.1},{"x":14.63,"y":17.5},{"x":14.63,"y":16.1},{"x":14.63,"y":-14.9},{"x":14.63,"y":-17.3},{"x":14.63,"y":-19.8},{"x":14.47,"y":-26.3},{"x":15.86,"y":26.3},{"x":15.86,"y":25.3},{"x":15.86,"y":24.3},{"x":15.86,"y":21.3},{"x":15.86,"y":19.8},{"x":15.86,"y":16.7},{"x":15.86,"y":15.2},{"x":15.86,"y":-15.5},{"x":15.86,"y":-18.2},{"x":15.86,"y":-21},{"x":15.86,"y":-22.8},{"x":15.86,"y":-24.3},{"x":15.86,"y":-25.5},{"x":17.08,"y":30.3},{"x":17.08,"y":28},{"x":17.08,"y":25.7},{"x":17.08,"y":23},{"x":17.08,"y":21.5},{"x":17.08,"y":19},{"x":17.08,"y":17.3},{"x":17.08,"y":-16.4},{"x":17.08,"y":-18.2},{"x":17.08,"y":-20.7},{"x":17.08,"y":-24.3},{"x":17.08,"y":-30.9},{"x":17.08,"y":-33.3},{"x":0.31,"y":24.7},{"x":0.86,"y":24.3},{"x":0.98,"y":20.8},{"x":1.44,"y":19.6},{"x":1.61,"y":18.8},{"x":2.28,"y":22},{"x":2.28,"y":19.3},{"x":3.21,"y":21.6},{"x":3.29,"y":20.5},{"x":3.61,"y":19.1},{"x":3.97,"y":21.5},{"x":4.36,"y":18.9},{"x":4.67,"y":19.1},{"x":4.79,"y":21},{"x":6.32,"y":25.2},{"x":6.5,"y":18.9},{"x":6.88,"y":18.6},{"x":7.13,"y":21},{"x":7.46,"y":24.5},{"x":7.88,"y":22.4},{"x":8.27,"y":21.3},{"x":0.78,"y":-27.2},{"x":0.96,"y":-21.8},{"x":1.45,"y":-23.5},{"x":1.61,"y":-24.7},{"x":2.31,"y":-22},{"x":2.27,"y":-23.3},{"x":3.21,"y":-21.3},{"x":3.33,"y":-21.8},{"x":3.54,"y":-20.3},{"x":4.02,"y":-20.1},{"x":4.78,"y":-21.2},{"x":5.59,"y":-20.1},{"x":6.87,"y":-21.6},{"x":7.14,"y":-24.2},{"x":7.16,"y":-21.6},{"x":7.83,"y":-19.9},{"x":8.84,"y":21.6},{"x":9.44,"y":19.1},{"x":9.61,"y":20.8},{"x":10.15,"y":19.8},{"x":10.78,"y":18.7},{"x":11.2,"y":20.4},{"x":11.27,"y":20.4},{"x":11.88,"y":18.5},{"x":12.03,"y":20.5},{"x":12.52,"y":21.6},{"x":14.06,"y":20.2},{"x":14.19,"y":18.2},{"x":14.46,"y":18.8},{"x":15.49,"y":19.3},{"x":15.68,"y":18.4},{"x":16.41,"y":18.8},{"x":16.89,"y":19.6},{"x":17.53,"y":18.8},{"x":17.87,"y":15.7},{"x":9.47,"y":-22.7},{"x":10.61,"y":-21.3},{"x":11.21,"y":-21.6},{"x":11.49,"y":-21.2},{"x":11.68,"y":-21},{"x":12.04,"y":-24.7},{"x":13.12,"y":-21.1},{"x":13.35,"y":-19.5},{"x":13.63,"y":-19.9},{"x":14.12,"y":-19.1},{"x":14.46,"y":-19},{"x":14.87,"y":-18.2},{"x":15.15,"y":-17.8},{"x":16.04,"y":-18},{"x":16.33,"y":-19.1},{"x":16.57,"y":-19.3},{"x":17.87,"y":-17},
{"x":0.08,"y":15.6},{"x":0.2,"y":16.4},{"x":0.35,"y":15.2},{"x":0.5,"y":17},{"x":0.68,"y":15.5},{"x":0.8,"y":16.5},{"x":1,"y":15.3},{"x":1.12,"y":17.3},{"x":1.45,"y":15.5},{"x":1.58,"y":16.4},{"x":1.78,"y":15.2},{"x":1.95,"y":17.2},{"x":2.12,"y":15.6},{"x":2.35,"y":16.6},{"x":2.6,"y":15.3},{"x":2.75,"y":17.1},{"x":2.95,"y":15.7},{"x":3.12,"y":16.5},{"x":3.3,"y":15.4},{"x":3.5,"y":17.3},{"x":3.68,"y":15.5},{"x":3.9,"y":16.3},{"x":4.1,"y":15.4},{"x":4.22,"y":17},{"x":4.45,"y":15.6},{"x":4.6,"y":16.4},{"x":4.82,"y":15.1},{"x":5.1,"y":17},{"x":5.3,"y":15.4},{"x":5.55,"y":16.2},{"x":5.7,"y":15.1},{"x":5.95,"y":16.8},{"x":6.25,"y":15.2},{"x":6.4,"y":16.1},{"x":6.62,"y":15},{"x":6.8,"y":16.8},{"x":7.05,"y":15},{"x":7.25,"y":16},{"x":7.5,"y":14.9},{"x":7.7,"y":16.5},{"x":7.95,"y":15},{"x":8.15,"y":16.3},{"x":8.38,"y":14.8},{"x":8.72,"y":16.2},{"x":8.95,"y":14.9},{"x":9.12,"y":16.4},{"x":9.35,"y":14.8},{"x":9.6,"y":15.8},{"x":9.9,"y":14.6},{"x":10.05,"y":16.2},{"x":10.3,"y":14.6},{"x":10.55,"y":15.6},{"x":10.75,"y":14.5},{"x":11.1,"y":15.8},{"x":11.35,"y":14.4},{"x":11.6,"y":15.6},{"x":11.82,"y":14.3},{"x":12,"y":15.8},{"x":12.35,"y":14.2},{"x":12.55,"y":15.6},{"x":12.8,"y":14},{"x":13,"y":15.3},{"x":13.2,"y":14.1},{"x":13.6,"y":15.4},{"x":13.85,"y":13.9},{"x":14.05,"y":15.2},{"x":14.3,"y":13.8},{"x":14.55,"y":14.9},{"x":14.85,"y":13.8},{"x":15.05,"y":15},{"x":15.3,"y":13.7},{"x":15.5,"y":14.9},{"x":15.75,"y":13.6},{"x":16,"y":15},{"x":16.25,"y":13.6},{"x":16.5,"y":14.6},{"x":16.72,"y":13.5},{"x":16.95,"y":14.6},{"x":17.2,"y":13.4},{"x":17.45,"y":14.6},{"x":17.7,"y":13.3},{"x":17.92,"y":14},
{"x":0.05,"y":-15.2},{"x":0.18,"y":-16.2},{"x":0.32,"y":-14.8},{"x":0.45,"y":-16.8},{"x":0.6,"y":-15},{"x":0.75,"y":-16.2},{"x":0.92,"y":-14.9},{"x":1.1,"y":-16.8},{"x":1.38,"y":-15.1},{"x":1.52,"y":-16.5},{"x":1.7,"y":-15},{"x":1.88,"y":-16.9},{"x":2.08,"y":-15.2},{"x":2.2,"y":-16.4},{"x":2.4,"y":-15},{"x":2.62,"y":-16.9},{"x":2.8,"y":-15.1},{"x":3,"y":-16.5},{"x":3.18,"y":-15},{"x":3.4,"y":-17},{"x":3.58,"y":-15.1},{"x":3.88,"y":-16.4},{"x":4.08,"y":-15},{"x":4.25,"y":-16.9},{"x":4.45,"y":-15.1},{"x":4.62,"y":-16.3},{"x":4.85,"y":-15},{"x":5.12,"y":-16.8},{"x":5.35,"y":-15},{"x":5.55,"y":-16.2},{"x":5.72,"y":-14.8},{"x":5.98,"y":-16.6},{"x":6.22,"y":-14.8},{"x":6.42,"y":-16.5},{"x":6.65,"y":-14.8},{"x":6.85,"y":-16.2},{"x":7.02,"y":-14.6},{"x":7.25,"y":-16.6},{"x":7.5,"y":-14.8},{"x":7.7,"y":-16},{"x":7.92,"y":-14.5},{"x":8.12,"y":-16.4},{"x":8.35,"y":-14.6},{"x":8.7,"y":-15.8},{"x":8.92,"y":-14.4},{"x":9.12,"y":-16.2},{"x":9.35,"y":-14.4},{"x":9.55,"y":-15.6},{"x":9.92,"y":-14.2},{"x":10.12,"y":-15.9},{"x":10.35,"y":-14.2},{"x":10.55,"y":-15.4},{"x":10.75,"y":-14.1},{"x":11.12,"y":-15.6},{"x":11.35,"y":-14},{"x":11.55,"y":-15.4},{"x":11.78,"y":-14},{"x":12,"y":-15.6},{"x":12.35,"y":-13.9},{"x":12.58,"y":-15.3},{"x":12.82,"y":-13.8},{"x":13.05,"y":-15.2},{"x":13.28,"y":-13.8},{"x":13.62,"y":-15.1},{"x":13.85,"y":-13.6},{"x":14.08,"y":-15},{"x":14.32,"y":-13.6},{"x":14.55,"y":-14.8},{"x":14.8,"y":-13.4},{"x":15.02,"y":-14.9},{"x":15.28,"y":-13.4},{"x":15.52,"y":-14.6},{"x":15.75,"y":-13.3},{"x":16.02,"y":-14.8},{"x":16.25,"y":-13.2},{"x":16.48,"y":-14.5},{"x":16.72,"y":-13.2},{"x":16.95,"y":-14.6},{"x":17.22,"y":-13.1},{"x":17.45,"y":-14.4},{"x":17.7,"y":-13},{"x":17.92,"y":-14.2}],
"dRed":[{"t":1,"v":39},{"t":2,"v":17.5},{"t":3,"v":18.5},{"t":4,"v":24.5},{"t":5,"v":20.5},{"t":6,"v":15.5},{"t":7,"v":18.5},{"t":8,"v":16.8},{"t":9,"v":24.5},{"t":10,"v":21.5},{"t":11,"v":15.5},{"t":12,"v":22},{"t":13,"v":33.5},{"t":14,"v":14.2},{"t":15,"v":20},{"t":16,"v":18},{"t":17,"v":19},{"t":18,"v":18.8},{"t":19,"v":17.8},{"t":20,"v":15.8},{"t":21,"v":16.8},{"t":22,"v":15.2},{"t":23,"v":22},{"t":24,"v":16.5},{"t":25,"v":39.5},{"t":26,"v":34.5},{"t":27,"v":28},{"t":28,"v":19.5},{"t":29,"v":18.5},{"t":30,"v":15.2},{"t":31,"v":17},{"t":32,"v":17.6},{"t":33,"v":15.5},{"t":34,"v":21.5},{"t":35,"v":17},{"t":36,"v":16},{"t":37,"v":17},{"t":38,"v":35},{"t":39,"v":13},{"t":40,"v":21.5},{"t":41,"v":19.5},{"t":42,"v":16.2},{"t":43,"v":18.5},{"t":44,"v":19},{"t":45,"v":17.5},{"t":46,"v":19},{"t":47,"v":18},{"t":48,"v":19.5},{"t":49,"v":21},{"t":50,"v":35.5},{"t":51,"v":21},{"t":52,"v":17},{"t":53,"v":16},{"t":54,"v":16.8},{"t":55,"v":16},{"t":56,"v":19.2},{"t":57,"v":15},{"t":58,"v":19},{"t":59,"v":17},{"t":60,"v":18},{"t":61,"v":16.8},{"t":62,"v":34.6},{"t":63,"v":11.7},{"t":64,"v":25},{"t":65,"v":19},{"t":66,"v":19},{"t":67,"v":16.8},{"t":69,"v":18.2},{"t":70,"v":15.6},{"t":72,"v":20.8},{"t":73,"v":14.5},{"t":74,"v":34.6},{"t":75,"v":24},{"t":77,"v":16.7},{"t":79,"v":22.4},{"t":81,"v":14.8},{"t":83,"v":21},{"t":85,"v":16.5},{"t":86,"v":34.3},{"t":88,"v":16.2},{"t":89,"v":21.4},{"t":90,"v":17.3},{"t":93,"v":13.6},{"t":95,"v":19.3},{"t":96,"v":14.7},{"t":98,"v":33.7},{"t":101,"v":15.6},{"t":102,"v":19.8},{"t":104,"v":15.8},{"t":106,"v":18},{"t":109,"v":18.6},{"t":111,"v":21.7},{"t":113,"v":20.7},{"t":115,"v":15.4},{"t":116,"v":17.6},{"t":118,"v":14.9},{"t":119,"v":18.6},{"t":120,"v":15.6},{"t":122,"v":30.4},{"t":125,"v":16},{"t":126,"v":21.3},{"t":128,"v":14.9},{"t":130,"v":15.6},{"t":131,"v":15.6},{"t":133,"v":17},{"t":134,"v":15.6},{"t":135,"v":28.6},{"t":136,"v":12.6},{"t":137,"v":16.5},{"t":140,"v":15.4},{"t":141,"v":20.4},{"t":142,"v":16.5},{"t":144,"v":13.6},{"t":145,"v":19},{"t":146,"v":10.2},{"t":147,"v":25.8},{"t":148,"v":15.6},{"t":150,"v":15.1},{"t":151,"v":18.2},{"t":152,"v":14.3},{"t":155,"v":19.7},{"t":156,"v":16.3},{"t":158,"v":13.6},{"t":159,"v":26.4},{"t":160,"v":14.7},{"t":161,"v":17},{"t":163,"v":13.6},{"t":165,"v":18.7},{"t":168,"v":14.3},{"t":169,"v":19.6},{"t":170,"v":16.5},{"t":171,"v":30.4},{"t":173,"v":15.8},{"t":175,"v":13.6},{"t":176,"v":19},{"t":177,"v":13},{"t":179,"v":15.8},{"t":180,"v":14}],
"dBlack":[{"t":1,"v":-35.5},{"t":2,"v":-18},{"t":3.4,"v":-15.3},{"t":5.8,"v":-19.3},{"t":7,"v":-18.6},{"t":8,"v":-27.2},{"t":9,"v":-15.5},{"t":10,"v":-21.7},{"t":11,"v":-18.2},{"t":13,"v":-49.2},{"t":14,"v":-13.3},{"t":15,"v":-23.4},{"t":16,"v":-19.5},{"t":17,"v":-24.8},{"t":18.7,"v":-20},{"t":20,"v":-16.6},{"t":22,"v":-17.7},{"t":23.5,"v":-23.5},{"t":25,"v":-39},{"t":27,"v":-20},{"t":29,"v":-16.2},{"t":30,"v":-19},{"t":32,"v":-16.8},{"t":34,"v":-22},{"t":35.4,"v":-18},{"t":36,"v":-20.3},{"t":37,"v":-17.3},{"t":38,"v":-38},{"t":39,"v":-13},{"t":41,"v":-20},{"t":44,"v":-14.8},{"t":45.7,"v":-17.7},{"t":47,"v":-17.5},{"t":48,"v":-21},{"t":49,"v":-16.2},{"t":50,"v":-31.8},{"t":51,"v":-19.3},{"t":53,"v":-20},{"t":54,"v":-16.5},{"t":56,"v":-20},{"t":58,"v":-15},{"t":61,"v":-19.7},{"t":62,"v":-35},{"t":63,"v":-16.6},{"t":65,"v":-19.7},{"t":67,"v":-15.5},{"t":69,"v":-21.7},{"t":71,"v":-14.6},{"t":72,"v":-23.6},{"t":73,"v":-18},{"t":74,"v":-36},{"t":75,"v":-17.3},{"t":77,"v":-18.2},{"t":78,"v":-15.3},{"t":79.4,"v":-19.7},{"t":81,"v":-16.4},{"t":83,"v":-16.8},{"t":84.6,"v":-19.2},{"t":86.3,"v":-29.4},{"t":87.5,"v":-20},{"t":88,"v":-14.4},{"t":89,"v":-19},{"t":91,"v":-13.4},{"t":93.4,"v":-18.4},{"t":95,"v":-22},{"t":96,"v":-17.3},{"t":98,"v":-52},{"t":100,"v":-16.6},{"t":102,"v":-14.8},{"t":103,"v":-16.6},{"t":105,"v":-16.6},{"t":107,"v":-21},{"t":109,"v":-14.8},{"t":110,"v":-27.2},{"t":111,"v":-29.6},{"t":112,"v":-16.8},{"t":113,"v":-21.2},{"t":114,"v":-14},{"t":115,"v":-21},{"t":116,"v":-15.3},{"t":117,"v":-21},{"t":118.5,"v":-14},{"t":121,"v":-23.2},{"t":122.7,"v":-24.5},{"t":124,"v":-14.8},{"t":125.6,"v":-16.6},{"t":128,"v":-13.6},{"t":129,"v":-16.6},{"t":131,"v":-14.6},{"t":132,"v":-20.8},{"t":133,"v":-15.7},{"t":135,"v":-29.1},{"t":136,"v":-12.7},{"t":137,"v":-19.9},{"t":140.5,"v":-15.3},{"t":142,"v":-18.8},{"t":143,"v":-14},{"t":145,"v":-26},{"t":146,"v":-14.2},{"t":147,"v":-19.2},{"t":150,"v":-14.2},{"t":152,"v":-17.7},{"t":153,"v":-14.2},{"t":155,"v":-16.6},{"t":157,"v":-14.6},{"t":159,"v":-25.5},{"t":160,"v":-12.4},{"t":161,"v":-18},{"t":163,"v":-13},{"t":164,"v":-19},{"t":165,"v":-16.6},{"t":166,"v":-19.2},{"t":168.5,"v":-15.4},{"t":171,"v":-33},{"t":173,"v":-16.6},{"t":175,"v":-13.7},{"t":177,"v":-15.9},{"t":179.5,"v":-17}]},
"bounds":"flush","spacing":953,
"vconcat":[{"bounds":"flush","spacing":424,"hconcat":[
{"width":1344,"height":759,"title":"(a)","resolve":{"axis":{"x":"independent","y":"independent"}},"layer":[
{"mark":{"type":"point","opacity":0},"data":{"values":[{"k":0}]},"encoding":{"x":{"datum":0,"type":"quantitative","scale":{"domain":[0,18],"nice":false},"axis":{"orient":"top","values":[0,2,4,6,8,10,12,14,16,18],"labels":false,"title":null}},"y":{"datum":0,"type":"quantitative","scale":{"domain":[-6000,8000],"nice":false},"axis":{"orient":"right","values":[-6000,-4000,-2000,0,2000,4000,6000,8000],"labels":false,"title":null}}}},
{"mark":{"type":"point","opacity":0},"data":{"values":[{"k":0}]},"encoding":{"x":{"datum":0,"type":"quantitative","scale":{"domain":[0,18],"nice":false},"axis":{"orient":"bottom","grid":true,"values":[0,2,4,6,8,10,12,14,16,18],"title":"Time / ms","labelPadding":33,"titlePadding":21}},"y":{"datum":0,"type":"quantitative","scale":{"domain":[-6000,8000],"nice":false},"axis":{"orient":"left","grid":true,"values":[-6000,-4000,-2000,0,2000,4000,6000,8000],"title":"I branch component","labelPadding":32,"titleX":-107}}}},
{"mark":"area","data":{"name":"aBand"},"encoding":{"x":{"field":"x","type":"quantitative","axis":null},"y":{"field":"lo","type":"quantitative","axis":null},"y2":{"field":"hi"},"detail":{"field":"s"},"color":{"value":"#3e3583"}}},
{"mark":{"type":"rule","strokeCap":"round","strokeWidth":12,"color":"#3e3583"},"data":{"name":"aSpike"},"encoding":{"x":{"field":"c","type":"quantitative","axis":null},"y":{"field":"a1","type":"quantitative","axis":null},"y2":{"field":"upw"}}},
{"mark":{"type":"rule","strokeCap":"round","strokeWidth":10,"color":"#3e3583"},"data":{"name":"aSpike"},"encoding":{"x":{"field":"c","type":"quantitative","axis":null},"y":{"field":"a1","type":"quantitative","axis":null},"y2":{"field":"up"}}},
{"mark":{"type":"rule","strokeCap":"round","strokeWidth":8,"color":"#3e3583"},"data":{"name":"aSpike"},"encoding":{"x":{"field":"d","type":"quantitative","axis":null},"y":{"field":"a2","type":"quantitative","axis":null},"y2":{"field":"dn"}}},
{"mark":{"type":"rule","strokeCap":"round","strokeWidth":10,"color":"#3e3583"},"data":{"name":"aSpike"},"encoding":{"x":{"field":"l","type":"quantitative","axis":null},"y":{"field":"a2","type":"quantitative","axis":null},"y2":{"field":"lb"}}},
{"mark":{"type":"rule","strokeCap":"round","strokeWidth":12,"color":"#3e3583"},"data":{"name":"aSpike"},"encoding":{"x":{"field":"c","type":"quantitative","axis":null},"y":{"field":"a3","type":"quantitative","axis":null},"y2":{"field":"low"}}},
{"mark":{"type":"rule","strokeCap":"round","strokeWidth":10,"color":"#3e3583"},"data":{"name":"aSpike"},"encoding":{"x":{"field":"c","type":"quantitative","axis":null},"y":{"field":"a3","type":"quantitative","axis":null},"y2":{"field":"lo"}}},
{"mark":{"type":"rule","strokeCap":"round","strokeWidth":8,"color":"#3e3583"},"data":{"name":"aSpike"},"encoding":{"x":{"field":"d","type":"quantitative","axis":null},"y":{"field":"a4","type":"quantitative","axis":null},"y2":{"field":"lup"}}},
{"mark":{"type":"rule","strokeCap":"round","strokeWidth":10,"color":"#3e3583"},"data":{"name":"aSpike"},"encoding":{"x":{"field":"l","type":"quantitative","axis":null},"y":{"field":"a4","type":"quantitative","axis":null},"y2":{"field":"llb"}}},
{"mark":{"type":"point","filled":true,"opacity":1,"size":72,"color":"#3e3583"},"data":{"name":"aDots"},"encoding":{"x":{"field":"x","type":"quantitative","axis":null},"y":{"field":"y","type":"quantitative","axis":null}}},
{"mark":{"type":"text","text":"× 10","align":"right","baseline":"middle","dx":-21,"dy":90,"font":"Lato","fontSize":28,"color":"#65544c"},"data":{"values":[{"k":0}]},"encoding":{"x":{"datum":18,"type":"quantitative","axis":null},"y":{"datum":-6000,"type":"quantitative","axis":null}}},
{"mark":{"type":"text","text":"4","align":"right","baseline":"middle","dx":-5,"dy":77,"font":"Lato","fontSize":21,"color":"#65544c"},"data":{"values":[{"k":0}]},"encoding":{"x":{"datum":18,"type":"quantitative","axis":null},"y":{"datum":-6000,"type":"quantitative","axis":null}}}]},
{"width":1340,"height":759,"title":"(b)","resolve":{"axis":{"x":"independent","y":"independent"}},"layer":[
{"mark":{"type":"point","opacity":0},"data":{"values":[{"k":0}]},"encoding":{"x":{"datum":0,"type":"quantitative","scale":{"domain":[0,18],"nice":false},"axis":{"orient":"top","values":[0,2,4,6,8,10,12,14,16,18],"labels":false,"title":null}},"y":{"datum":0,"type":"quantitative","scale":{"domain":[-2000,2000],"nice":false},"axis":{"orient":"right","values":[-2000,-1500,-1000,-500,0,500,1000,1500,2000],"labels":false,"title":null}}}},
{"mark":{"type":"point","opacity":0},"data":{"values":[{"k":0}]},"encoding":{"x":{"datum":0,"type":"quantitative","scale":{"domain":[0,18],"nice":false},"axis":{"orient":"bottom","grid":true,"values":[0,2,4,6,8,10,12,14,16,18],"title":"Time / ms","labelPadding":33,"titlePadding":21}},"y":{"datum":0,"type":"quantitative","scale":{"domain":[-2000,2000],"nice":false},"axis":{"orient":"left","grid":true,"values":[-2000,-1500,-1000,-500,0,500,1000,1500,2000],"title":"Q branch component","labelPadding":32,"titleX":-107}}}},
{"mark":"area","data":{"name":"bBand"},"encoding":{"x":{"field":"x","type":"quantitative","axis":null},"y":{"field":"lo","type":"quantitative","axis":null},"y2":{"field":"hi"},"color":{"value":"#3e3583"}}},
{"mark":{"type":"point","filled":true,"opacity":1,"size":64,"color":"#3e3583"},"data":{"name":"bDots"},"encoding":{"x":{"field":"x","type":"quantitative","axis":null},"y":{"field":"y","type":"quantitative","axis":null}}},
{"mark":{"type":"text","text":"× 10","align":"right","baseline":"middle","dx":-21,"dy":90,"font":"Lato","fontSize":28,"color":"#65544c"},"data":{"values":[{"k":0}]},"encoding":{"x":{"datum":18,"type":"quantitative","axis":null},"y":{"datum":-2000,"type":"quantitative","axis":null}}},
{"mark":{"type":"text","text":"4","align":"right","baseline":"middle","dx":-5,"dy":77,"font":"Lato","fontSize":21,"color":"#65544c"},"data":{"values":[{"k":0}]},"encoding":{"x":{"datum":18,"type":"quantitative","axis":null},"y":{"datum":-2000,"type":"quantitative","axis":null}}}]}]},
{"bounds":"flush","spacing":1773,"hconcat":[{"bounds":"flush","spacing":0,"hconcat":[{"width":10,"height":10,"view":{"stroke":null},"data":{"values":[{"k":0}]},"mark":{"type":"point","opacity":0},"encoding":{}},
{"width":1343,"height":756,"title":"(c)","resolve":{"axis":{"x":"independent","y":"independent"}},"layer":[
{"mark":{"type":"point","opacity":0},"data":{"values":[{"k":0}]},"encoding":{"x":{"datum":0,"type":"quantitative","scale":{"domain":[0,18],"nice":false},"axis":{"orient":"top","values":[0,2,4,6,8,10,12,14,16,18],"labels":false,"title":null}},"y":{"datum":0,"type":"quantitative","scale":{"domain":[-60,40],"nice":false},"axis":{"orient":"right","values":[-60,-50,-40,-30,-20,-10,0,10,20,30,40],"labels":false,"title":null}}}},
{"mark":{"type":"point","opacity":0},"data":{"values":[{"k":0}]},"encoding":{"x":{"datum":0,"type":"quantitative","scale":{"domain":[0,18],"nice":false},"axis":{"orient":"bottom","grid":true,"values":[0,2,4,6,8,10,12,14,16,18],"title":"Time / ms","labelPadding":33,"titlePadding":21}},"y":{"datum":0,"type":"quantitative","scale":{"domain":[-60,40],"nice":false},"axis":{"orient":"left","grid":true,"values":[-60,-50,-40,-30,-20,-10,0,10,20,30,40],"title":"Phase value / degree","labelPadding":32,"titleX":-66}}}},
{"mark":"area","data":{"name":"cBand"},"encoding":{"x":{"field":"x","type":"quantitative","axis":null},"y":{"field":"lo","type":"quantitative","axis":null},"y2":{"field":"hi"},"color":{"value":"#3e3583"}}},
{"mark":{"type":"point","filled":true,"opacity":1,"size":58,"color":"#3e3583"},"data":{"name":"cDots"},"encoding":{"x":{"field":"x","type":"quantitative","axis":null},"y":{"field":"y","type":"quantitative","axis":null}}},
{"mark":{"type":"text","text":"× 10","align":"right","baseline":"middle","dx":-21,"dy":90,"font":"Lato","fontSize":28,"color":"#65544c"},"data":{"values":[{"k":0}]},"encoding":{"x":{"datum":18,"type":"quantitative","axis":null},"y":{"datum":-60,"type":"quantitative","axis":null}}},
{"mark":{"type":"text","text":"4","align":"right","baseline":"middle","dx":-5,"dy":77,"font":"Lato","fontSize":21,"color":"#65544c"},"data":{"values":[{"k":0}]},"encoding":{"x":{"datum":18,"type":"quantitative","axis":null},"y":{"datum":-60,"type":"quantitative","axis":null}}}]}]},
{"width":1341,"height":756,"title":"(d)","resolve":{"axis":{"x":"independent","y":"independent"}},"layer":[
{"mark":{"type":"point","opacity":0},"data":{"values":[{"k":0}]},"encoding":{"x":{"datum":0,"type":"quantitative","scale":{"domain":[0,180],"nice":false},"axis":{"orient":"top","values":[0,20,40,60,80,100,120,140,160,180],"labels":false,"title":null}},"y":{"datum":0,"type":"quantitative","scale":{"domain":[-60,40],"nice":false},"axis":{"orient":"right","values":[-60,-50,-40,-30,-20,-10,0,10,20,30,40],"labels":false,"title":null}}}},
{"mark":{"type":"point","opacity":0},"data":{"values":[{"k":0}]},"encoding":{"x":{"datum":0,"type":"quantitative","scale":{"domain":[0,180],"nice":false},"axis":{"orient":"bottom","grid":true,"values":[0,20,40,60,80,100,120,140,160,180],"title":"Time / s","labelPadding":33,"titlePadding":21}},"y":{"datum":0,"type":"quantitative","scale":{"domain":[-60,40],"nice":false},"axis":{"orient":"left","grid":true,"values":[-60,-50,-40,-30,-20,-10,0,10,20,30,40],"title":"Phase value / degree","labelPadding":32,"titleX":-72}}}},
{"mark":{"type":"line","color":"#d7101a","strokeWidth":6.5,"strokeDash":[15,4,5,4]},"data":{"name":"dRed"},"encoding":{"x":{"field":"t","type":"quantitative","axis":null},"y":{"field":"v","type":"quantitative","axis":null}}},
{"mark":{"type":"line","color":"#33271e","strokeWidth":6.5,"strokeDash":[15,4,5,4]},"data":{"name":"dBlack"},"encoding":{"x":{"field":"t","type":"quantitative","axis":null},"y":{"field":"v","type":"quantitative","axis":null}}}]}]}]}
